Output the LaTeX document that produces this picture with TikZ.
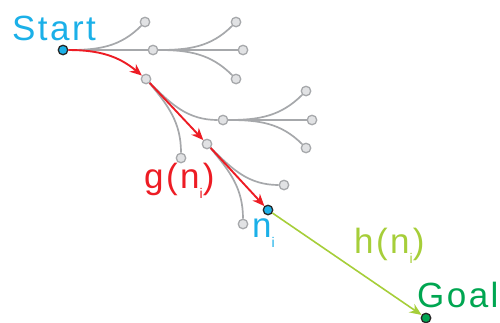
\documentclass[tikz,border=0pt]{standalone}
\usepackage{fontspec}
\setmainfont{Liberation Sans}
\usetikzlibrary{arrows.meta}
\definecolor{startblue}{RGB}{27,176,232}
\definecolor{pathred}{RGB}{237,28,36}
\definecolor{hgreen}{RGB}{166,206,57}
\definecolor{goalgreen}{RGB}{0,166,81}
\definecolor{edgegray}{RGB}{166,168,171}
\definecolor{nodegray}{RGB}{225,226,228}
\newcommand\subi{\raisebox{-0.3em}{\fontsize{14}{14}\selectfont i}}
\begin{document}
\begin{tikzpicture}[x=1pt,y=1pt,
 gnode/.style={circle,draw=edgegray,fill=nodegray,line width=1.3pt,inner sep=0pt,minimum size=9.5pt},
 keynode/.style={circle,draw=black!85,line width=1.3pt,inner sep=0pt,minimum size=9.5pt},
 gedge/.style={draw=edgegray,line width=1.7pt},
 redarrow/.style={draw=pathred,line width=1.9pt,-{Stealth[length=12pt,width=10pt]}},
 harrow/.style={draw=hgreen,line width=1.6pt,-{Stealth[length=12pt,width=10pt]}},
 lbl/.style={anchor=base west,inner sep=0pt,font=\addfontfeature{LetterSpace=7}\fontsize{35}{35}\selectfont}]
\useasboundingbox (0,0) rectangle (500,-322);
% nodes
\node[keynode,fill=startblue] (s) at (63,-50) {};
\node[gnode] (a1) at (145,-22) {};
\node[gnode] (a2) at (153,-50) {};
\node[gnode] (a3) at (146,-79) {};
\node[gnode] (b1) at (236,-22) {};
\node[gnode] (b2) at (243,-50) {};
\node[gnode] (b3) at (236,-79) {};
\node[gnode] (c) at (223,-120) {};
\node[gnode] (d1) at (181,-158) {};
\node[gnode] (e) at (207,-144) {};
\node[gnode] (f1) at (306,-91) {};
\node[gnode] (f2) at (312,-120) {};
\node[gnode] (f3) at (306,-148) {};
\node[gnode] (g1) at (284,-185) {};
\node[gnode] (g2) at (243,-224) {};
\node[keynode,fill=startblue] (ni) at (268,-210) {};
\node[keynode,fill=goalgreen] (goal) at (426,-318) {};
% gray edges
\draw[gedge] (s) to[out=0,in=225] (a1);
\draw[gedge] (s) -- (a2);
\draw[gedge] (a2) to[out=0,in=225] (b1);
\draw[gedge] (a2) -- (b2);
\draw[gedge] (a2) to[out=0,in=135] (b3);
\draw[gedge] (a3) to[out=-45,in=180] (c);
\draw[gedge] (a3) to[out=-50,in=90] (d1);
\draw[gedge] (c) to[out=0,in=225] (f1);
\draw[gedge] (c) -- (f2);
\draw[gedge] (c) to[out=0,in=135] (f3);
\draw[gedge] (e) to[out=-45,in=180] (g1);
\draw[gedge] (e) to[out=-50,in=90] (g2);
% path
\draw[redarrow] (s) to[out=0,in=140] (a3);
\draw[redarrow] (a3) -- (e);
\draw[redarrow] (e) -- (ni);
\draw[harrow] (ni) -- (goal);
% labels
\node[lbl,text=startblue] (tstart) at (12,-40) {Start};
\node[lbl,text=pathred] (tg) at (144,-188) {g(n\subi)};
\node[lbl,text=startblue] (tni) at (252,-237) {n\subi};
\node[lbl,text=hgreen] (th) at (354,-253) {h(n\subi)};
\node[lbl,text=goalgreen] (tgoal) at (417,-307) {Goal};
\end{tikzpicture}
\end{document}
